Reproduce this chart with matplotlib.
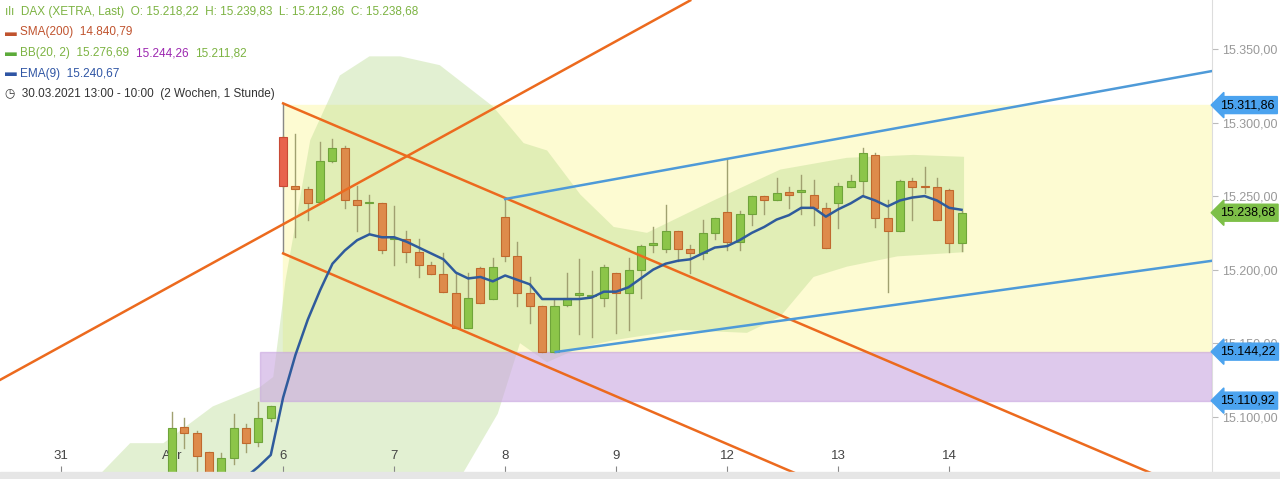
import matplotlib.pyplot as plt
from matplotlib.patches import Rectangle

plt.rcParams["font.family"] = ["Liberation Sans", "DejaVu Sans"]

# hourly candles, index 0 = 1 Apr 09:00, 9 candles per day
opens = [15050, 15093, 15089, 15076, 15055, 15072, 15092, 15083, 15099,
         15290, 15257, 15255, 15246, 15274, 15283, 15247, 15245, 15245,
         15221, 15221, 15212, 15203, 15197, 15184, 15160, 15201, 15180,
         15236, 15209, 15184, 15175, 15144, 15176, 15183, 15182, 15181,
         15198, 15184, 15200, 15217, 15214, 15226, 15214, 15211, 15225,
         15239, 15219, 15238, 15250, 15247, 15253, 15253, 15251, 15242,
         15245, 15256, 15260, 15278, 15235, 15226, 15260, 15257, 15256,
         15254, 15218.22]
highs = [15103, 15099, 15090, 15076, 15075, 15102, 15095, 15110, 15107,
         15291, 15292, 15256, 15287, 15289, 15284, 15257, 15251, 15245,
         15243, 15226, 15221, 15205, 15211, 15198, 15198, 15202, 15208,
         15248, 15219, 15195, 15175, 15180, 15198, 15207, 15199, 15203,
         15198, 15208, 15217, 15229, 15244, 15226, 15217, 15234, 15235,
         15275, 15240, 15250, 15250, 15262, 15256, 15264, 15261, 15245,
         15259, 15264, 15283, 15279, 15247, 15261, 15262, 15270, 15262,
         15255, 15239.83]
lows = [15040, 15079, 15062, 15055, 15055, 15068, 15076, 15080, 15097,
        15256, 15222, 15234, 15245, 15273, 15242, 15226, 15225, 15211,
        15203, 15205, 15195, 15197, 15185, 15160, 15160, 15177, 15180,
        15206, 15175, 15164, 15144, 15144, 15175, 15156, 15154, 15175,
        15157, 15159, 15181, 15212, 15212, 15206, 15198, 15207, 15221,
        15213, 15213, 15230, 15238, 15247, 15242, 15238, 15230, 15215,
        15228, 15256, 15251, 15229, 15185, 15226, 15234, 15252, 15234,
        15212, 15212.86]
closes = [15092, 15089, 15073, 15055, 15072, 15092, 15082, 15099, 15107,
          15257, 15255, 15245, 15274, 15283, 15247, 15244, 15245, 15213,
          15221, 15212, 15203, 15197, 15185, 15160, 15181, 15177, 15202,
          15209, 15184, 15175, 15144, 15175, 15181, 15183, 15182, 15202,
          15184, 15200, 15216, 15217, 15226, 15214, 15211, 15225, 15235,
          15219, 15238, 15250, 15247, 15252, 15251, 15253, 15242, 15215,
          15257, 15260, 15279, 15235, 15226, 15260, 15256, 15256, 15234,
          15218, 15238.68]

ema_start = 6
ema = [15059, 15066, 15074, 15113, 15142, 15166, 15186, 15204, 15213, 15220,
       15224, 15222, 15222, 15219, 15215, 15211, 15207, 15198, 15194, 15195,
       15192, 15196, 15193, 15190, 15180, 15180, 15180, 15180, 15181, 15185,
       15185, 15188, 15194, 15200, 15204, 15206, 15207, 15211, 15215, 15216,
       15220, 15225, 15229, 15234, 15237, 15242, 15242, 15236, 15241, 15245,
       15250, 15247, 15243, 15247, 15249, 15250, 15247, 15242, 15240.67]

bb_up_x = [-7.1, -3.4, -0.7, 3.3, 7.1, 8.2, 9.2, 11.2, 13.6, 16, 18.5, 21.7,
           26, 28.5, 30.4, 33.1, 35.8, 38.5, 43.9, 49.3, 54.7, 60.1, 64.2]
bb_up = [15050, 15082, 15082, 15107, 15120, 15127, 15193, 15288, 15332, 15345,
         15345, 15339, 15311, 15286, 15281, 15251, 15229, 15225, 15247, 15268,
         15276, 15278, 15276.69]
bb_lo_x = [-7.1, 23.4, 26.4, 28.2, 30.4, 33.1, 35.8, 41.2, 46.6, 49.3, 52,
           54.7, 58.8, 64.2]
bb_lo = [15000, 15059, 15102, 15150, 15137, 15147, 15152, 15159, 15157, 15168,
         15195, 15202, 15209, 15211.82]

day_pos = [-9, 0, 9, 18, 27, 36, 45, 54, 63]
day_labels = ["31", "Apr", "6", "7", "8", "9", "12", "13", "14"]

# drawn lines: (x0, p0, x1, p1)
orange_lines = [(-13.95, 15125, 42, 15383),
                (9, 15313, 84.3, 15044),
                (9, 15211, 84.3, 14940)]
blue_lines = [(27, 15248, 84.3, 15335),
              (31.1, 15144, 84.3, 15206)]
zone_yellow = (9, 15144.22, 15311.86)
zone_purple = (7.1, 15110.92, 15144.22)
tags = [(15311.86, "#4ba3ef"), (15238.68, "#7dbf48"),
        (15144.22, "#4ba3ef"), (15110.92, "#4ba3ef")]


def de(v):
    return f"{v:,.2f}".replace(",", "X").replace(".", ",").replace("X", ".")


fig = plt.figure(figsize=(12.8, 4.79), dpi=100)
ax = fig.add_axes([0, 7 / 479, 1212 / 1280, 472 / 479])
xmin, xmax = -13.95, 84.3
ax.set_xlim(xmin, xmax)
ax.set_ylim(15062.4, 15383.3)

x0, lo, hi = zone_yellow
ax.add_patch(Rectangle((x0, lo), xmax - x0, hi - lo, color="#fdfbd2", zorder=0))
x0, lo, hi = zone_purple
ax.add_patch(Rectangle((x0, lo), xmax - x0, hi - lo, color="#c9a6e0", alpha=0.6, zorder=3))

ax.fill(bb_up_x + bb_lo_x[::-1], bb_up + bb_lo[::-1], color="#b5d98a", alpha=0.38,
        lw=0, zorder=1)

ax.plot([9, 9], [15211, 15313], color="#888888", lw=1, zorder=2)
for a, p0, b, p1 in orange_lines:
    ax.plot([a, b], [p0, p1], color="#ec6a1e", lw=1.8, zorder=6)
for a, p0, b, p1 in blue_lines:
    ax.plot([a, b], [p0, p1], color="#4e9ad8", lw=1.8, zorder=6)

w = 0.65
for i, (o, h, l, c) in enumerate(zip(opens, highs, lows, closes)):
    up = c >= o
    face = "#8cc549" if up else "#de8b4b"
    edge = "#6fa43a" if up else "#c0692e"
    if i == 9:
        face, edge = "#e8634c", "#c84a36"
    ax.plot([i, i], [l, h], color="#a0a070", lw=1, zorder=4)
    ax.add_patch(Rectangle((i - w / 2, min(o, c)), w, max(abs(c - o), 0.8),
                           facecolor=face, edgecolor=edge, lw=0.8, zorder=5))

ax.plot(range(ema_start, ema_start + len(ema)), ema, color="#2f5b9c", lw=1.8, zorder=7)

for s in ax.spines.values():
    s.set_visible(False)
ax.spines["right"].set_visible(True)
ax.spines["right"].set_color("#dddddd")
ax.set_xticks(day_pos)
ax.set_xticklabels(day_labels)
ax.tick_params(axis="x", direction="in", pad=-16, labelsize=9.5, colors="#444444",
               length=4, color="#888888")
ax.yaxis.tick_right()
ticks = [15100, 15150, 15200, 15250, 15300, 15350]
ax.set_yticks(ticks)
ax.set_yticklabels([de(t) for t in ticks])
ax.tick_params(axis="y", labelsize=9, colors="#999999", length=4, pad=3,
               color="#bbbbbb")

for p, col in tags:
    ax.annotate(de(p), xy=(1.0, p), xycoords=("axes fraction", "data"),
                xytext=(6, 0), textcoords="offset points", va="center",
                fontsize=9, color="black",
                bbox=dict(boxstyle="larrow,pad=0.2", fc=col, ec=col),
                annotation_clip=False, zorder=10)

fig.add_artist(plt.Rectangle((0, 0), 1, 7 / 479, transform=fig.transFigure,
                             color="#e6e6e6"))

legend = [
    [("ılı  DAX (XETRA, Last)  O: 15.218,22  H: 15.239,83  L: 15.212,86  C: 15.238,68", "#7cb342")],
    [("▬ ", "#c0532e"), ("SMA(200)  14.840,79", "#c0532e")],
    [("▬ ", "#5cab3a"), ("BB(20, 2)  15.276,69  ", "#7cb342"), ("15.244,26  ", "#9c27b0"),
     ("15.211,82", "#7cb342")],
    [("▬ ", "#2f55a4"), ("EMA(9)  15.240,67", "#2f55a4")],
    [("◷  30.03.2021 13:00 - 10:00  (2 Wochen, 1 Stunde)", "#333333")],
]
renderer = fig.canvas.get_renderer()
for row, parts in enumerate(legend):
    x = 5 / 1280
    y = 1 - (12 + row * 20.5) / 479
    for s, col in parts:
        t = fig.text(x, y, s, color=col, fontsize=8.5, va="center", zorder=20)
        bb = t.get_window_extent(renderer)
        x += bb.width / 1280

fig.savefig("out.png", dpi=100)
